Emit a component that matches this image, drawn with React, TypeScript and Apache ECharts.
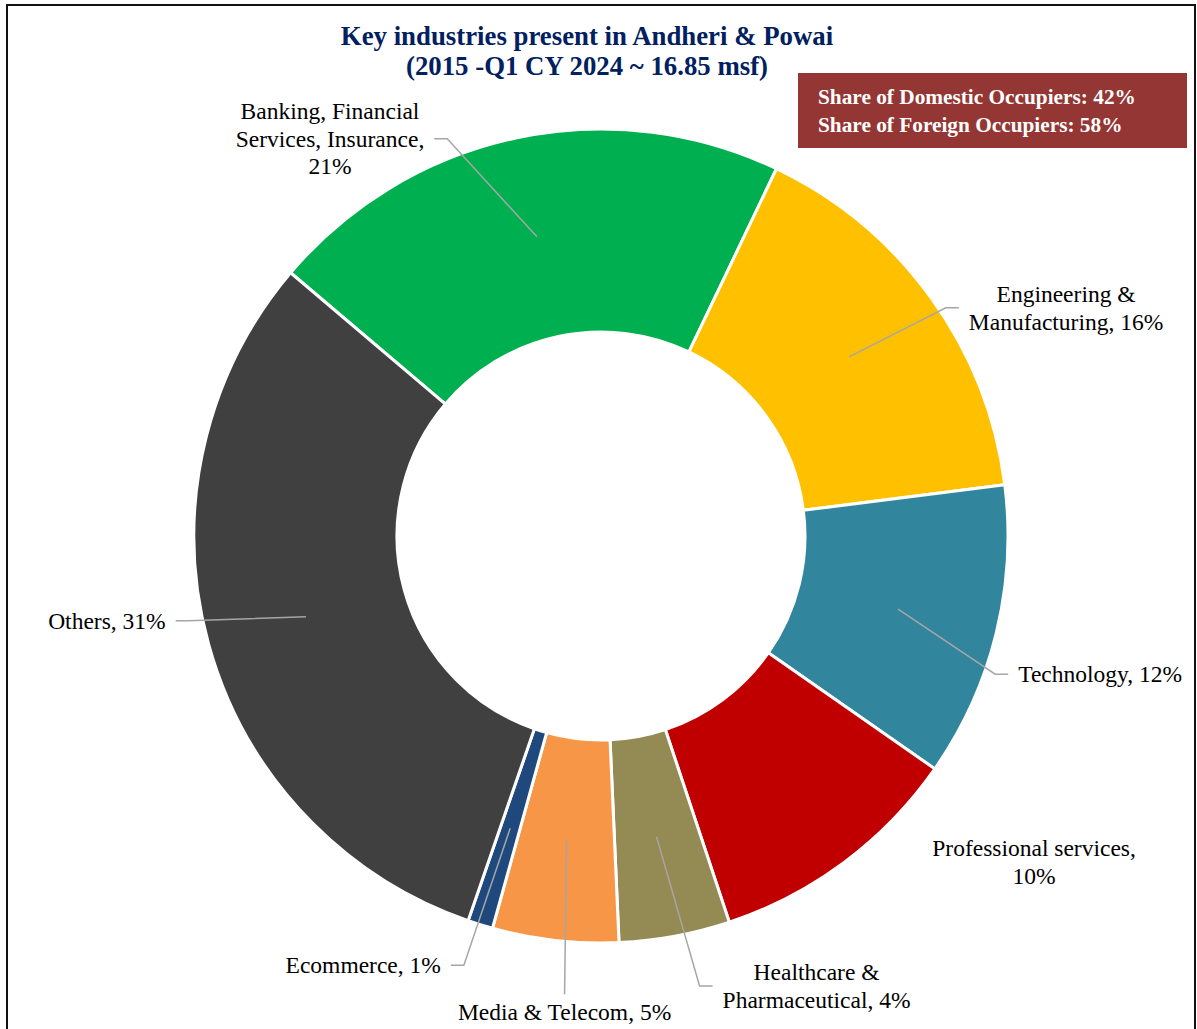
import React, { useEffect, useRef } from "react";
import * as echarts from "echarts";

// ---- data ----
const categories = [
  "Banking, Financial\nServices, Insurance",
  "Engineering &\nManufacturing",
  "Technology",
  "Professional services",
  "Healthcare &\nPharmaceutical",
  "Media & Telecom",
  "Ecommerce",
  "Others",
];
const shares = [20.9, 15.9, 11.7, 10.2, 4.4, 5.0, 1.0, 30.9];
const valueOnNewLine = [true, false, false, true, false, false, false, false];
const sliceColors = ["#00B050", "#FFC000", "#31859C", "#C00000", "#948A54", "#F79646", "#1F497D", "#404040"];
const showLeader = [true, true, true, false, true, true, true, true];
// label centre offset from the leader-line anchor (px)
const labelOffsets = [
  [-207, -98],
  [217, -49],
  [202, 65],
  [250, 81],
  [160, 149],
  [-2, 172],
  [-147, 137],
  [-199, 4],
];
const titleLines = ["Key industries present in Andheri & Powai", "(2015 -Q1 CY 2024 ~ 16.85 msf)"];
const occupierNotes = ["Share of Domestic Occupiers: 42%", "Share of Foreign Occupiers: 58%"];

const FONT = "'Liberation Serif', 'Times New Roman', serif";

export default function App() {
  const ref = useRef<HTMLDivElement>(null);
  useEffect(() => {
    if (!ref.current) return;
    const chart = echarts.init(ref.current, undefined, { renderer: "svg" });
    const center = [601, 536];
    const startAngle = 139.7;

    const pieData = categories.map((name, i) => ({
      name,
      value: shares[i],
      itemStyle: { color: sliceColors[i] },
    }));
    const labelData = categories.map((name, i) => ({
      name,
      value: shares[i],
      labelLine: { lineStyle: { opacity: showLeader[i] ? 1 : 0 } },
    }));

    chart.setOption({
      animation: false,
      backgroundColor: "#ffffff",
      title: {
        text: titleLines.join("\n"),
        left: 587,
        top: 21,
        textAlign: "center",
        padding: 0,
        textStyle: {
          fontFamily: FONT,
          fontSize: 26.8,
          fontWeight: "bold",
          color: "#002060",
          lineHeight: 30,
        },
      },
      graphic: [
        {
          type: "rect",
          shape: { x: 798, y: 73, width: 389, height: 75 },
          style: { fill: "#943634" },
        },
        {
          type: "text",
          x: 818,
          y: 111,
          style: {
            text: occupierNotes.join("\n"),
            fill: "#ffffff",
            fontFamily: FONT,
            fontSize: 21.3,
            fontWeight: "bold",
            lineHeight: 28,
            align: "left",
            verticalAlign: "middle",
          },
        },
        {
          type: "rect",
          z: 100,
          shape: { x: 7, y: 5, width: 1188, height: 1100 },
          style: { fill: "none", stroke: "#111111", lineWidth: 2 },
        },
      ],
      series: [
        {
          type: "pie",
          silent: true,
          center,
          radius: [204, 407],
          startAngle,
          clockwise: true,
          avoidLabelOverlap: false,
          label: { show: false },
          labelLine: { show: false },
          itemStyle: { borderColor: "#ffffff", borderWidth: 3 },
          data: pieData,
        },
        {
          type: "pie",
          silent: true,
          z: 3,
          center,
          radius: [0, 306],
          startAngle,
          clockwise: true,
          avoidLabelOverlap: false,
          itemStyle: { color: "rgba(0,0,0,0)", borderWidth: 0 },
          label: {
            show: true,
            position: "outside",
            color: "#000000",
            fontFamily: FONT,
            fontSize: 23.5,
            lineHeight: 27.5,
            formatter: (p: any) =>
              `${p.name},${valueOnNewLine[p.dataIndex] ? "\n" : " "}${Math.round(p.value)}%`,
          },
          labelLine: {
            show: true,
            length: 10,
            length2: 10,
            lineStyle: { color: "#A6A6A6", width: 1.5 },
          },
          labelLayout: (params: any) => {
            const i = params.dataIndex;
            const pts = params.labelLinePoints;
            if (!pts) return {};
            const ax = pts[0][0];
            const ay = pts[0][1];
            const [ox, oy] = labelOffsets[i];
            const cx = ax + ox;
            const cy = ay + oy;
            const w = params.labelRect.width;
            const h = params.labelRect.height;
            const GAP = 10;
            const ELBOW = 13;
            const VGAP = 4;
            let line: number[][];
            if (Math.abs(ox) > w / 2) {
              const s = ox > 0 ? -1 : 1;
              const ex = cx + s * (w / 2 + GAP);
              line = [
                [ax, ay],
                [ex + s * ELBOW, cy],
                [ex, cy],
              ];
            } else {
              const s = oy > 0 ? -1 : 1;
              const ey = cy + s * (h / 2 + VGAP);
              line = [
                [ax, ay],
                [cx, ey],
              ];
            }
            return {
              x: cx,
              y: cy,
              align: "center",
              verticalAlign: "middle",
              labelLinePoints: line,
            };
          },
          data: labelData,
        },
      ],
    });
    return () => chart.dispose();
  }, []);

  return (
    <div
      ref={ref}
      style={{ position: "absolute", left: 0, top: 0, width: 1197, height: 1029 }}
    />
  );
}
